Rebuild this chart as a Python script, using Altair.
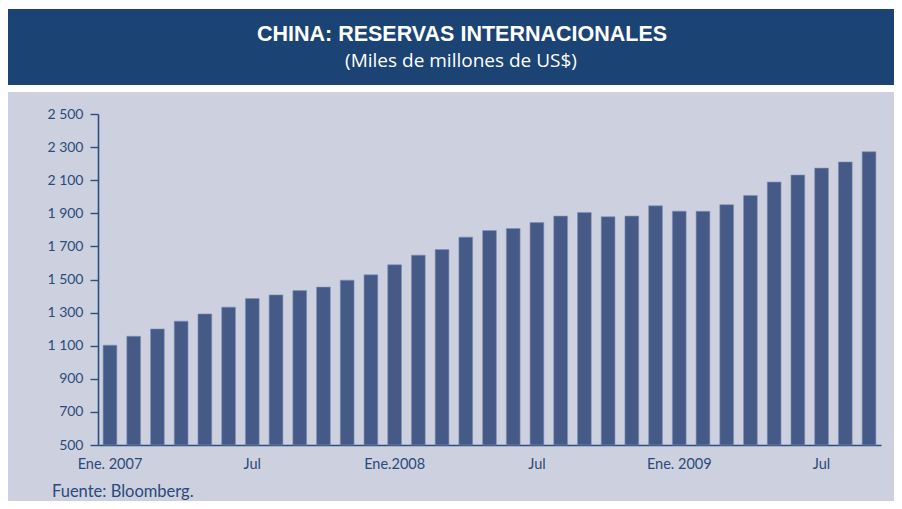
import altair as alt
import pandas as pd

# Data (billions of US$)
months = [f"{y}-{m:02d}" for y in (2007, 2008, 2009) for m in range(1, 13)][:33]
reserves = [1103, 1157, 1201, 1248, 1292, 1333, 1385, 1407, 1433, 1454, 1496, 1528,
            1589, 1647, 1681, 1756, 1796, 1808, 1844, 1883, 1905, 1879, 1883, 1945,
            1913, 1912, 1952, 2008, 2089, 2131, 2173, 2210, 2272]
tick_months = ["2007-01", "2007-07", "2008-01", "2008-07", "2009-01", "2009-07"]
tick_labels = ["Ene. 2007", "Jul", "Ene.2008", "Jul", "Ene. 2009", "Jul"]
y_ticks = list(range(500, 2501, 200))
y_base = 500

title_text = "CHINA: RESERVAS INTERNACIONALES"
subtitle_text = "(Miles de millones de US$)"
source_text = "Fuente: Bloomberg."

df = pd.DataFrame({"mes": months, "valor": reserves})

NAVY = "#1b4373"
BAR = "#465a88"
AXIS = "#2b4f82"
TXT = "#2b4a7c"
BG = "#cdd0de"

label_map = "{" + ",".join(f"'{m}':'{l}'" for m, l in zip(tick_months, tick_labels)) + "}"

one = alt.Data(values=[{}])

white_strip = alt.Chart(one).mark_rect(color="white").encode(
    x=alt.value(-90), x2=alt.value(800), y=alt.value(-110), y2=alt.value(-22)
)
banner = alt.Chart(one).mark_rect(color=NAVY).encode(
    x=alt.value(-90), x2=alt.value(800), y=alt.value(-105), y2=alt.value(-29)
)
title = alt.Chart(one).mark_text(
    text=title_text, font="Liberation Sans", fontWeight="bold", fontSize=21.5,
    color="white", align="center", baseline="alphabetic"
).encode(x=alt.value(364), y=alt.value(-73))
subtitle = alt.Chart(one).mark_text(
    text=subtitle_text, font="Open Sans", fontSize=19,
    color="white", align="center", baseline="alphabetic"
).encode(x=alt.value(363), y=alt.value(-47))
source = alt.Chart(one).mark_text(
    text=source_text, font="Lato", fontSize=16.5,
    color=TXT, align="left", baseline="alphabetic"
).encode(x=alt.value(-46), y=alt.value(383))

bars = alt.Chart(df).mark_bar(color=BAR, stroke="#8290b6", strokeWidth=0.6).encode(
    x=alt.X("mes:O", sort=months,
            scale=alt.Scale(paddingInner=0.42, paddingOuter=0.215),
            axis=alt.Axis(title=None, values=tick_months, labelExpr=f"{label_map}[datum.value]",
                          ticks=False, labelAngle=0, labelPadding=12, labelFont="Lato",
                          labelFontSize=14.5, labelColor=TXT, domainColor=AXIS,
                          domainWidth=1.6, grid=False)),
    y=alt.Y("valor:Q", scale=alt.Scale(domain=[500, 2500], nice=False, zero=False),
            axis=alt.Axis(title=None, values=y_ticks,
                          labelExpr="replace(format(datum.value, ','), ',', ' ')",
                          tickSize=8, tickColor=AXIS, tickWidth=1.4, domainColor=AXIS,
                          domainWidth=1.6, labelPadding=7, labelFont="Lato",
                          labelFontSize=14, labelColor=TXT, grid=False, zindex=1)),
    y2=alt.datum(y_base),
)

chart = alt.layer(white_strip, banner, title, subtitle, bars, source).properties(
    width=783, height=331,
    autosize=alt.AutoSizeParams(type="none"),
    padding={"left": 90, "top": 106, "right": 13, "bottom": 56},
    background=BG,
).configure_view(stroke=None)

chart.save("out.html", embed_options={"renderer": "svg", "actions": False})
